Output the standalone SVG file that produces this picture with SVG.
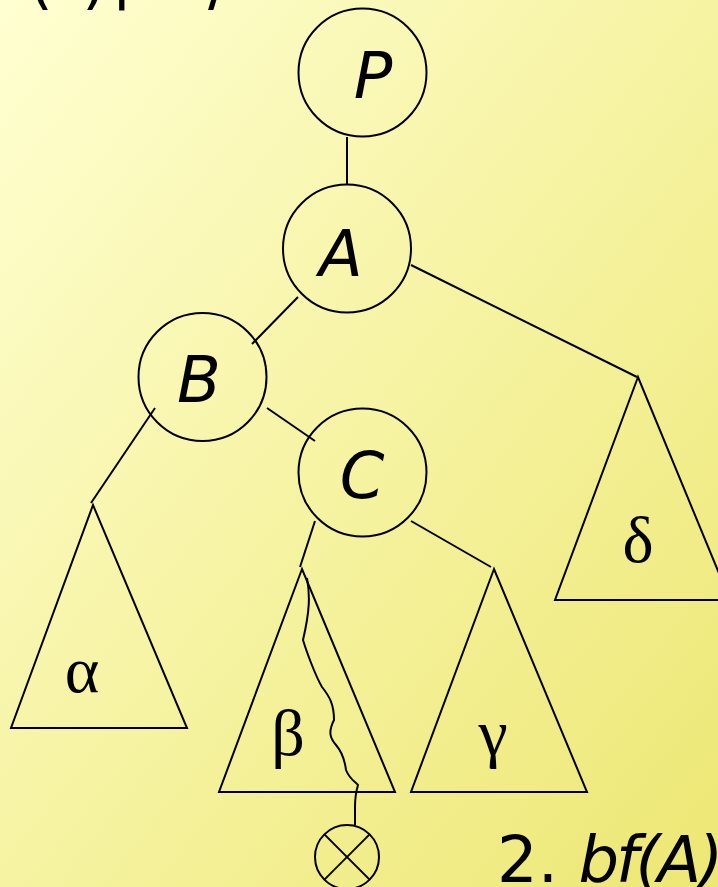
<svg xmlns="http://www.w3.org/2000/svg" width="718" height="887" viewBox="0 0 718 887">
<defs>
<linearGradient id="bg" x1="0" y1="0" x2="1" y2="1">
<stop offset="0" stop-color="#FFFFD2"/>
<stop offset="1" stop-color="#EDE773"/>
</linearGradient>
<style>
.ln{stroke:#000;stroke-width:2;fill:none}
.nd{stroke:#000;stroke-width:2;fill:none}
.lab{font-family:"DejaVu Sans",Verdana,sans-serif;font-style:italic;font-size:64px;fill:#000;text-anchor:middle}
.gk{font-family:"Liberation Serif","Times New Roman",serif;font-size:66px;fill:#000;text-anchor:middle}
.tx{font-family:"DejaVu Sans",Verdana,sans-serif;font-size:64px;fill:#000}
</style>
</defs>
<rect width="718" height="887" fill="url(#bg)"/>
<text class="tx"><tspan x="28" y="1.5">(</tspan><tspan x="82" y="1.5">)</tspan><tspan x="111" y="-5">|</tspan><tspan x="208" y="4">/</tspan></text>
<g id="connectors">
<line class="ln" x1="347" y1="137" x2="347" y2="185"/>
<line class="ln" x1="298" y1="297" x2="252" y2="344"/>
<line class="ln" x1="411" y1="265" x2="637" y2="377"/>
<line class="ln" x1="155" y1="408" x2="91" y2="503"/>
<line class="ln" x1="267" y1="408" x2="315" y2="441"/>
<line class="ln" x1="315" y1="521" x2="300" y2="567"/>
<line class="ln" x1="411" y1="521" x2="491" y2="567"/>
<path class="ln" d="M307,578 C310,595 310,610 303,640 C306,650 315,675 322,687 C330,697 334,705 334,720 C328,732 330,738 336,745 C342,752 345,762 346,770 C350,780 356,782 358,785 C355,795 355,800 355,807 L355,825"/>
</g>
<g id="P"><circle class="nd" cx="362.5" cy="72.5" r="64"/><text class="lab" x="373" y="98">P</text></g>
<g id="A"><circle class="nd" cx="347" cy="248.5" r="64"/><text class="lab" x="341" y="276">A</text></g>
<g id="B"><circle class="nd" cx="202.5" cy="377" r="64"/><text class="lab" x="199" y="402">B</text></g>
<g id="C"><circle class="nd" cx="362.5" cy="472.5" r="64"/><text class="lab" x="362" y="498">C</text></g>
<g id="alpha"><polygon class="nd" points="93,505 11,728 187,728"/><text class="gk" x="82" y="692">α</text></g>
<g id="beta"><polygon class="nd" points="302,569 219,792 395,792"/><text class="gk" x="288" y="755">β</text></g>
<g id="gamma"><polygon class="nd" points="494,569 411,792 587,792"/><text class="gk" x="493" y="755">γ</text></g>
<g id="delta"><polygon class="nd" points="638,377 555,600 730,600"/><text class="gk" x="638" y="562">δ</text></g>
<g id="new"><circle class="nd" cx="347" cy="857" r="32"/><line class="ln" x1="324.4" y1="834.4" x2="369.6" y2="879.6"/><line class="ln" x1="369.6" y1="834.4" x2="324.4" y2="879.6"/></g>
<text class="tx" x="497" y="882">2. <tspan font-style="italic" letter-spacing="-3">bf(A)</tspan></text>
</svg>
